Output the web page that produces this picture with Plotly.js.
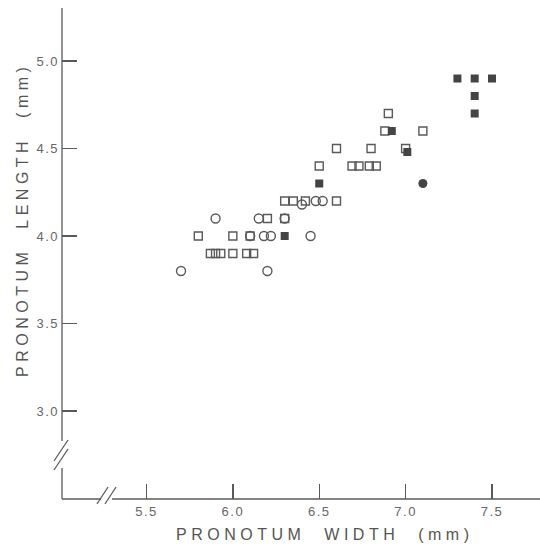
<!DOCTYPE html>
<html>
<head>
<meta charset="utf-8">
<script src="https://cdn.plot.ly/plotly-3.0.1.min.js"></script>
<style>
html,body{margin:0;padding:0;background:#fff;}
#chart{width:540px;height:546px;}
.annotation-text{letter-spacing:4.5px;word-spacing:10px;}
.xtick text,.ytick text{letter-spacing:1.5px;}
</style>
</head>
<body>
<div id="chart"></div>
<script>
// Pronotum width (x, mm) and length (y, mm) by symbol type
const openCircleX = [5.9, 6.15, 6.1, 6.18, 6.22, 5.7, 6.2, 6.4, 6.48, 6.52, 6.3, 6.45];
const openCircleY = [4.1, 4.1, 4.0, 4.0, 4.0, 3.8, 3.8, 4.18, 4.2, 4.2, 4.1, 4.0];

const openSquareX = [5.8, 6.0, 6.1, 5.87, 5.9, 5.93, 6.0, 6.08, 6.12, 6.2, 6.3, 6.35, 6.42, 6.6, 6.3, 6.5, 6.69, 6.73, 6.79, 6.83, 6.6, 6.8, 7.0, 6.88, 7.1, 6.9];
const openSquareY = [4.0, 4.0, 4.0, 3.9, 3.9, 3.9, 3.9, 3.9, 3.9, 4.1, 4.2, 4.2, 4.2, 4.2, 4.1, 4.4, 4.4, 4.4, 4.4, 4.4, 4.5, 4.5, 4.5, 4.6, 4.6, 4.7];

const filledSquareX = [6.3, 6.5, 6.92, 7.01, 7.4, 7.4, 7.3, 7.4, 7.5];
const filledSquareY = [4.0, 4.3, 4.6, 4.48, 4.7, 4.8, 4.9, 4.9, 4.9];

const filledCircleX = [7.1];
const filledCircleY = [4.3];

const xTicks = [5.5, 6.0, 6.5, 7.0, 7.5];
const xTickLabels = ['5.5', '6.0', '6.5', '7.0', '7.5'];
const yTicks = [3.0, 3.5, 4.0, 4.5, 5.0];
const yTickLabels = ['3.0', '3.5', '4.0', '4.5', '5.0'];

const xTitle = 'PRONOTUM WIDTH (mm)';
const yTitle = 'PRONOTUM LENGTH (mm)';

const ink = '#5a5a5a';
const W = 540, H = 546, ML = 62, MR = 0, MT = 8, MB = 47;
const PW = W - ML - MR, PH = H - MT - MB;
const px = p => (p - ML) / PW;          // pixel x -> paper
const py = p => (H - MB - p) / PH;      // pixel y -> paper

const traces = [
  {x: openCircleX, y: openCircleY, mode: 'markers', type: 'scatter',
   marker: {symbol: 'circle-open', size: 9, color: ink, line: {width: 1.4, color: ink}}},
  {x: openSquareX, y: openSquareY, mode: 'markers', type: 'scatter',
   marker: {symbol: 'square-open', size: 8, color: ink, line: {width: 1.4, color: ink}}},
  {x: filledSquareX, y: filledSquareY, mode: 'markers', type: 'scatter',
   marker: {symbol: 'square', size: 8, color: '#444'}},
  {x: filledCircleX, y: filledCircleY, mode: 'markers', type: 'scatter',
   marker: {symbol: 'circle', size: 9, color: '#444'}}
];

const lineStyle = {color: ink, width: 1.3};
const shapes = [
  // y axis (broken)
  {type: 'line', xref: 'paper', yref: 'paper', x0: 0, x1: 0, y0: py(441), y1: 1, line: lineStyle},
  {type: 'line', xref: 'paper', yref: 'paper', x0: 0, x1: 0, y0: 0, y1: py(468), line: lineStyle},
  {type: 'line', xref: 'paper', yref: 'paper', x0: px(54), x1: px(68), y0: py(461), y1: py(440), line: lineStyle},
  {type: 'line', xref: 'paper', yref: 'paper', x0: px(54), x1: px(68), y0: py(470), y1: py(449), line: lineStyle},
  // x axis (broken)
  {type: 'line', xref: 'paper', yref: 'paper', x0: 0, x1: px(101), y0: 0, y1: 0, line: lineStyle},
  {type: 'line', xref: 'paper', yref: 'paper', x0: px(112), x1: 1, y0: 0, y1: 0, line: lineStyle},
  {type: 'line', xref: 'paper', yref: 'paper', x0: px(97), x1: px(108), y0: py(504), y1: py(487), line: lineStyle},
  {type: 'line', xref: 'paper', yref: 'paper', x0: px(105), x1: px(116), y0: py(504), y1: py(487), line: lineStyle}
];

const axisFont = {family: 'Liberation Sans, Arial, sans-serif', size: 13, color: '#666'};
const titleFont = {family: 'Liberation Sans, Arial, sans-serif', size: 16, color: '#555'};

const layout = {
  width: W, height: H,
  margin: {l: ML, r: MR, t: MT, b: MB, pad: 0},
  paper_bgcolor: '#fff', plot_bgcolor: '#fff',
  showlegend: false,
  xaxis: {
    range: [5.011, 7.778], showgrid: false, zeroline: false, showline: false,
    tickmode: 'array', tickvals: xTicks, ticktext: xTickLabels,
    ticks: 'inside', ticklen: 15, tickwidth: 1.3, tickcolor: ink,
    tickfont: axisFont, ticklabelstandoff: 3
  },
  yaxis: {
    range: [2.497, 5.303], showgrid: false, zeroline: false, showline: false,
    tickmode: 'array', tickvals: yTicks, ticktext: yTickLabels,
    ticks: 'inside', ticklen: 15, tickwidth: 1.3, tickcolor: ink,
    tickfont: axisFont, ticklabelstandoff: 2
  },
  annotations: [
    {text: xTitle, xref: 'paper', yref: 'paper', x: px(324), y: py(534),
     xanchor: 'center', yanchor: 'middle', showarrow: false, font: titleFont},
    {text: yTitle, xref: 'paper', yref: 'paper', x: px(22), y: py(220),
     xanchor: 'center', yanchor: 'middle', textangle: -90, showarrow: false, font: titleFont}
  ],
  shapes: shapes
};

Plotly.newPlot('chart', traces, layout, {staticPlot: true, displayModeBar: false});
</script>
</body>
</html>
